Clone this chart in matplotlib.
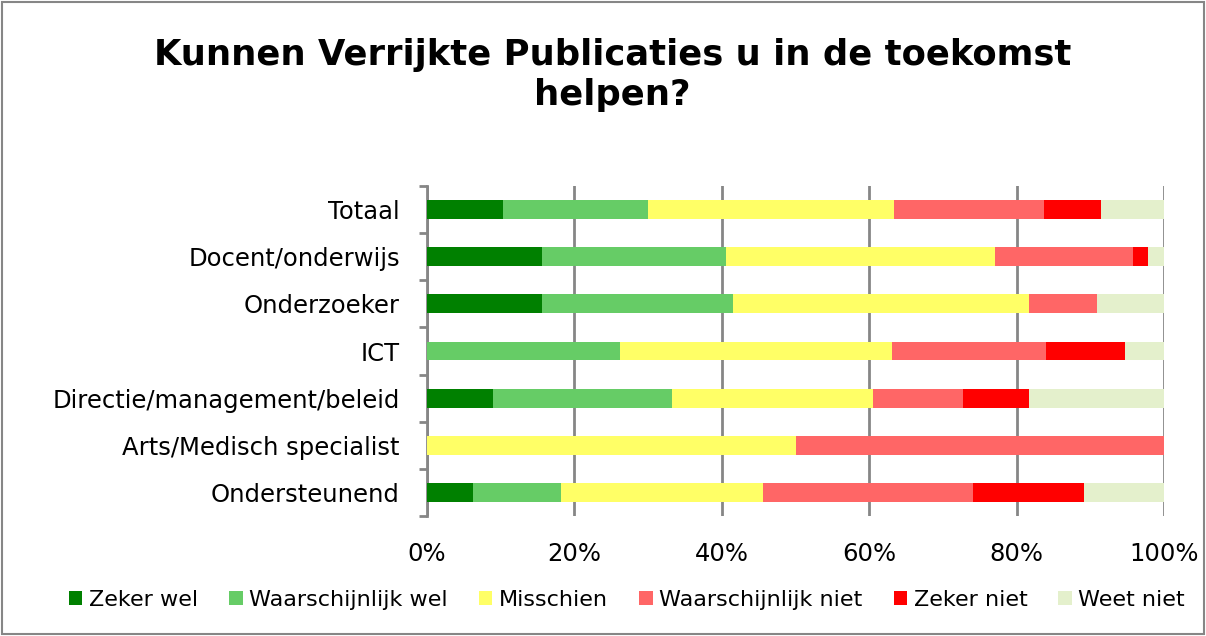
import matplotlib
matplotlib.use("Agg")
import matplotlib.pyplot as plt
import numpy as np
from matplotlib.patches import Rectangle

categories = ["Totaal", "Docent/onderwijs", "Onderzoeker", "ICT",
              "Directie/management/beleid", "Arts/Medisch specialist", "Ondersteunend"]
series_names = ["Zeker wel", "Waarschijnlijk wel", "Misschien",
                "Waarschijnlijk niet", "Zeker niet", "Weet niet"]
zeker_wel = [10.3, 15.6, 15.6, 0.0, 9.0, 0.0, 6.2]
waarschijnlijk_wel = [19.7, 25.0, 25.9, 26.2, 24.2, 0.0, 12.0]
misschien = [33.4, 36.5, 40.2, 36.9, 27.3, 50.0, 27.4]
waarschijnlijk_niet = [20.3, 18.7, 9.2, 20.9, 12.2, 50.0, 28.5]
zeker_niet = [7.8, 2.0, 0.0, 10.7, 9.0, 0.0, 15.0]
weet_niet = [8.5, 2.2, 9.1, 5.3, 18.3, 0.0, 10.9]
x_ticks = [0, 20, 40, 60, 80, 100]
x_ticklabels = ["0%", "20%", "40%", "60%", "80%", "100%"]

colors = ["#008000", "#66CC66", "#FFFF66", "#FF6666", "#FF0000", "#E4F0CC"]

data = np.array([zeker_wel, waarschijnlijk_wel, misschien,
                 waarschijnlijk_niet, zeker_niet, weet_niet], dtype=float)
data = data / data.sum(axis=0) * 100

fig = plt.figure(figsize=(12.06, 6.36), dpi=100)
ax = fig.add_axes([427/1206, 1 - 516/636, (1164-427)/1206, (516-186)/636])

y = np.arange(len(categories))
left = np.zeros(len(categories))
for i, name in enumerate(series_names):
    ax.barh(y, data[i], left=left, height=0.4, color=colors[i], label=name,
            edgecolor="none", zorder=3)
    left += data[i]

ax.set_ylim(len(categories) - 0.5, -0.5)
ax.set_xlim(0, 100)
ax.set_xticks(x_ticks)
ax.set_xticklabels(x_ticklabels, fontsize=17.5)
ax.set_yticks(y)
ax.set_yticklabels(categories, fontsize=17.5)
ax.tick_params(axis="y", length=0, pad=19.5)
ax.tick_params(axis="x", length=0, pad=19)
ax.set_yticks(np.arange(-0.5, len(categories) + 0.5, 1), minor=True)
ax.tick_params(axis="y", which="minor", length=6, width=2, color="#868686", direction="out")
ax.xaxis.grid(True, color="#868686", linewidth=2, zorder=0)
for s in ["top", "right", "bottom"]:
    ax.spines[s].set_visible(False)
ax.spines["left"].set_color("#868686")
ax.spines["left"].set_linewidth(2)

fig.text(0.508, 1 - 55/636, "Kunnen Verrijkte Publicaties u in de toekomst",
         ha="center", va="center", fontsize=25.5, fontweight="bold")
fig.text(0.508, 1 - 95/636, "helpen?", ha="center", va="center",
         fontsize=25.5, fontweight="bold")

leg = fig.legend(loc="center", bbox_to_anchor=(0.52, 1 - 600/636), ncol=6,
                 frameon=False, fontsize=16, handlelength=0.6, handleheight=0.6,
                 handletextpad=0.3, columnspacing=1.4)

fig.patches.append(Rectangle((0.002, 0.003), 0.996, 0.994, transform=fig.transFigure,
                             fill=False, edgecolor="#868686", linewidth=1.5))

fig.savefig("out.png", dpi=100, facecolor="white")
